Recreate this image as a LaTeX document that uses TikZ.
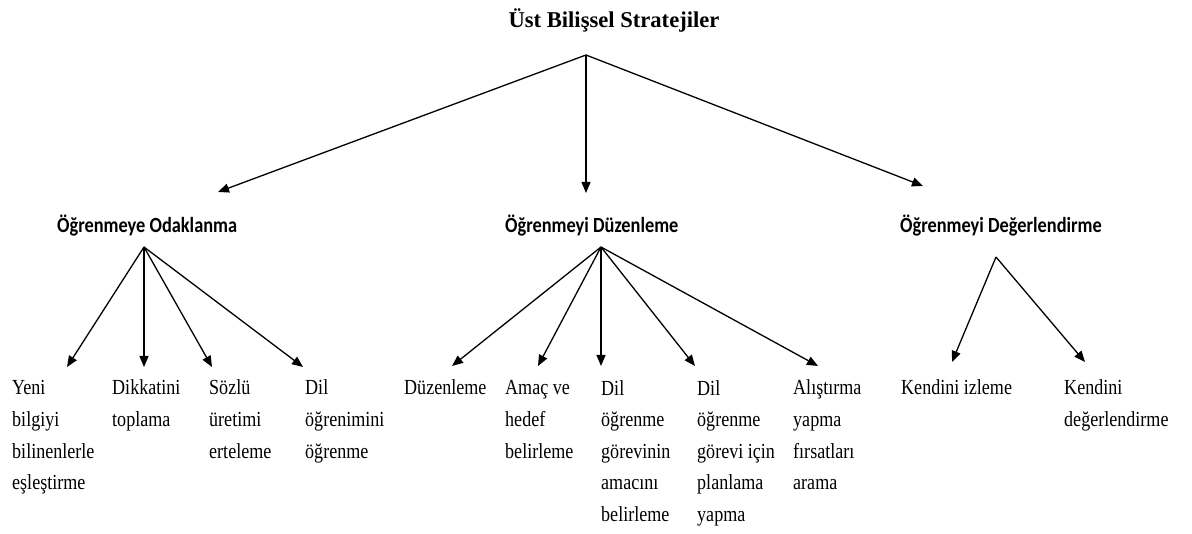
\documentclass[tikz,border=0pt]{standalone}
\usepackage{fontspec}
\setmainfont{Liberation Serif}
\newfontfamily\leaffont[FakeStretch=0.84]{Liberation Serif}
\newfontfamily\headfont[FakeStretch=0.85]{Carlito}
\usetikzlibrary{arrows.meta}

\tikzset{
  title/.style={anchor=base, inner sep=0pt, font=\bfseries\fontsize{22.6}{27}\selectfont},
  head/.style={anchor=base west, inner sep=0pt, font=\headfont\bfseries\fontsize{21.6}{26}\selectfont},
  leaf/.style={anchor=base west, align=left, inner sep=0pt,
    font=\leaffont\fontsize{21.5}{31.6}\selectfont},
  arr/.style={line width=1.3pt, -{Triangle[length=11pt,width=9pt]}}
}

\begin{document}
\begin{tikzpicture}[x=1pt,y=-1pt]
    \useasboundingbox (0,0) rectangle (1192,534);

    \node[title] (ust) at (614,28) {Üst Bilişsel Stratejiler};

    \node[head] (odak) at (57,233) {Öğrenmeye Odaklanma};
    \node[head] (duzen) at (505,233) {Öğrenmeyi Düzenleme};
    \node[head] (deger) at (900,233) {Öğrenmeyi Değerlendirme};

    % base = last line; first lines all sit at 395
    \node[leaf] (yeni) at (12,489.8) {Yeni\\bilgiyi\\bilinenlerle\\eşleştirme};
    \node[leaf] (dikkat) at (112,426.6) {Dikkatini\\toplama};
    \node[leaf] (sozlu) at (209,458.2) {Sözlü\\üretimi\\erteleme};
    \node[leaf] (dilog) at (305,458.2) {Dil\\öğrenimini\\öğrenme};
    \node[leaf] (duz) at (404,395) {Düzenleme};
    \node[leaf] (amac) at (505,458.2) {Amaç ve\\hedef\\belirleme};
    \node[leaf] (gorev) at (601,521.4) {Dil\\öğrenme\\görevinin\\amacını\\belirleme};
    \node[leaf] (plan) at (697,521.4) {Dil\\öğrenme\\görevi için\\planlama\\yapma};
    \node[leaf] (alis) at (793,489.8) {Alıştırma\\yapma\\fırsatları\\arama};
    \node[leaf] (izle) at (901,395) {Kendini izleme};
    \node[leaf] (kdeg) at (1064,426.6) {Kendini\\değerlendirme};

    % fan tops
    \coordinate (ust fan) at (586,55);
    \coordinate (odak fan) at (144,247);
    \coordinate (duzen fan) at (601,247);
    \coordinate (deger fan) at (996,257);

    \foreach \n/\x/\y in {odak/218/192, duzen/586/193, deger/923/186} {
        \coordinate (\n in) at (\x,\y);
        \draw[arr] (ust fan) -- (\n in);
    }
    \foreach \n/\x in {yeni/67, dikkat/144, sozlu/212, dilog/303} {
        \coordinate (\n in) at (\x,367);
        \draw[arr] (odak fan) -- (\n in);
    }
    \foreach \n/\x in {duz/452, amac/538, gorev/601, plan/695, alis/818} {
        \coordinate (\n in) at (\x,366);
        \draw[arr] (duzen fan) -- (\n in);
    }
    \foreach \n/\x in {izle/952, kdeg/1085} {
        \coordinate (\n in) at (\x,362);
        \draw[arr] (deger fan) -- (\n in);
    }
\end{tikzpicture}
\end{document}
